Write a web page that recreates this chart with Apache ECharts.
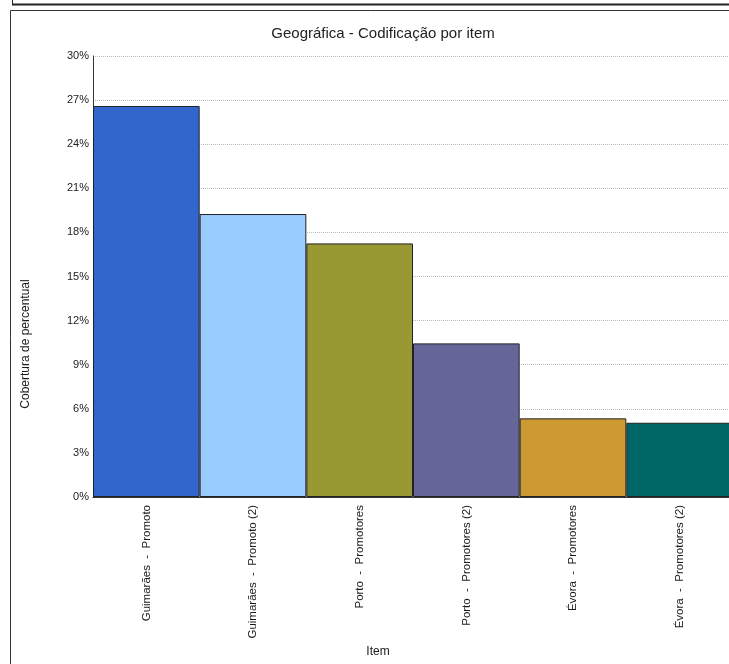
<!DOCTYPE html>
<html>
<head>
<meta charset="utf-8">
<script src="https://cdn.jsdelivr.net/npm/echarts@6/dist/echarts.min.js"></script>
<style>
html,body{margin:0;padding:0;background:#fff;}
#c{width:729px;height:664px;}
</style>
</head>
<body>
<div id="c"></div>
<script>
const categories = ["Guimarães  -  Promoto", "Guimarães  -  Promoto (2)", "Porto  -  Promotores", "Porto  -  Promotores (2)", "Évora  -  Promotores", "Évora  -  Promotores (2)"];
const values = [26.6, 19.25, 17.25, 10.45, 5.35, 5.05];
const colors = ["#3366CC", "#99CCFF", "#999933", "#666699", "#CC9933", "#006666"];
const yTicks = [0, 3, 6, 9, 12, 15, 18, 21, 24, 27, 30];

const FONT = "Liberation Sans, Arial, sans-serif";
const chart = echarts.init(document.getElementById('c'), null, {renderer: 'canvas'});
chart.setOption({
  animation: false,
  backgroundColor: '#fff',
  title: {
    text: 'Geográfica - Codificação por item',
    left: 378, top: 21, textAlign: 'center',
    textStyle: {fontFamily: FONT, fontSize: 15, fontWeight: 'normal', color: '#222'}
  },
  grid: {left: 93, top: 56, height: 441, width: 640, containLabel: false, outerBoundsMode: 'none'},
  xAxis: {
    type: 'category',
    data: categories,
    axisLine: {show: true, lineStyle: {color: '#333', width: 1}},
    axisTick: {show: false},
    axisLabel: {rotate: 90, margin: 8, fontFamily: FONT, fontSize: 11.5, color: '#1a1a1a', interval: 0}
  },
  yAxis: {
    type: 'value',
    min: yTicks[0], max: yTicks[yTicks.length - 1], interval: 3,
    axisLine: {show: true, lineStyle: {color: '#333', width: 1}},
    axisTick: {show: false},
    axisLabel: {margin: 4, fontFamily: FONT, fontSize: 11, color: '#222', formatter: v => v + '%'},
    splitLine: {show: true, lineStyle: {color: '#bbb', type: [1, 1], width: 1}}
  },
  series: [{
    type: 'bar',
    barCategoryGap: '0%',
    data: values.map((v, i) => ({value: v, itemStyle: {color: colors[i]}})),
    itemStyle: {borderColor: '#222', borderWidth: 1}
  }],
  graphic: [
    {type: 'line', shape: {x1: 12, y1: 4.5, x2: 729, y2: 4.5}, style: {stroke: '#222', lineWidth: 2}},
    {type: 'line', shape: {x1: 12.5, y1: 0, x2: 12.5, y2: 5}, style: {stroke: '#222', lineWidth: 1}},
    {type: 'rect', shape: {x: 10.5, y: 10.5, width: 760, height: 700}, style: {fill: null, stroke: '#333', lineWidth: 1}, z: 10},
    {type: 'text', x: 26, y: 344, rotation: Math.PI / 2, style: {text: 'Cobertura de percentual', font: '12px ' + FONT, fill: '#1a1a1a', align: 'center', verticalAlign: 'middle'}},
    {type: 'text', x: 378, y: 652, style: {text: 'Item', font: '12px ' + FONT, fill: '#1a1a1a', align: 'center', verticalAlign: 'middle'}}
  ]
});
</script>
</body>
</html>
